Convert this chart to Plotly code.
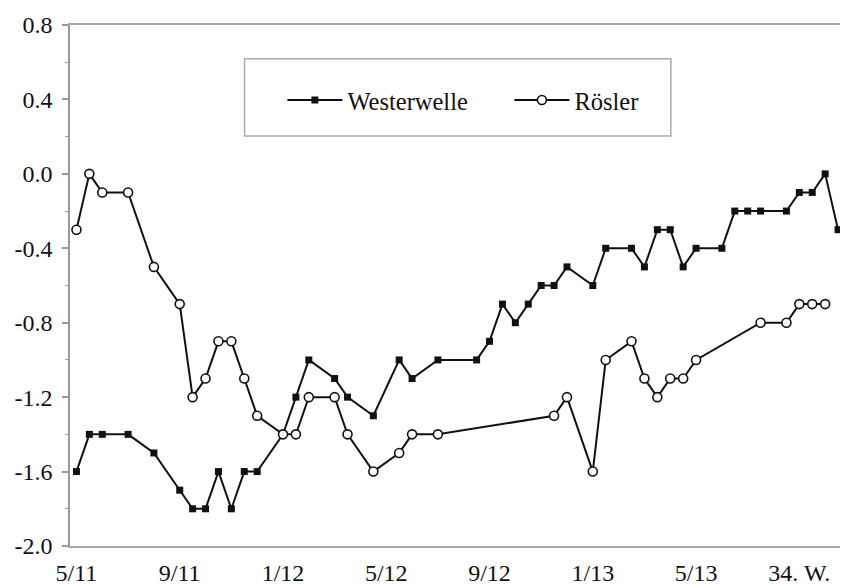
import plotly.graph_objects as go

# Time slots (roughly bi-weekly polls) along a category-like axis
ww_x = [0, 1, 2, 4, 6, 8, 9, 10, 11, 12, 13, 14, 16, 17, 18, 20, 21, 23, 25, 26, 28,
        31, 32, 33, 34, 35, 36, 37, 38, 40, 41, 43, 44, 45, 46, 47, 48, 50, 51, 52,
        53, 55, 56, 57, 58, 59]
ww_y = [-1.6, -1.4, -1.4, -1.4, -1.5, -1.7, -1.8, -1.8, -1.6, -1.8, -1.6, -1.6, -1.4,
        -1.2, -1.0, -1.1, -1.2, -1.3, -1.0, -1.1, -1.0, -1.0, -0.9, -0.7, -0.8, -0.7,
        -0.6, -0.6, -0.5, -0.6, -0.4, -0.4, -0.5, -0.3, -0.3, -0.5, -0.4, -0.4, -0.2,
        -0.2, -0.2, -0.2, -0.1, -0.1, 0.0, -0.3]

ro_x = [0, 1, 2, 4, 6, 8, 9, 10, 11, 12, 13, 14, 16, 17, 18, 20, 21, 23, 25, 26, 28,
        37, 38, 40, 41, 43, 44, 45, 46, 47, 48, 53, 55, 56, 57, 58]
ro_y = [-0.3, 0.0, -0.1, -0.1, -0.5, -0.7, -1.2, -1.1, -0.9, -0.9, -1.1, -1.3, -1.4,
        -1.4, -1.2, -1.2, -1.4, -1.6, -1.5, -1.4, -1.4, -1.3, -1.2, -1.6, -1.0, -0.9,
        -1.1, -1.2, -1.1, -1.1, -1.0, -0.8, -0.8, -0.7, -0.7, -0.7]

x_tickvals = [0, 8, 16, 24, 32, 40, 48, 56]
x_ticktext = ["5/11", "9/11", "1/12", "5/12", "9/12", "1/13", "5/13", "34. W."]

y_tickvals = [-2.0, -1.6, -1.2, -0.8, -0.4, 0.0, 0.4, 0.8]
y_ticktext = ["-2.0", "-1.6", "-1.2", "-0.8", "-0.4", "0.0", "0.4", "0.8"]

slot_bounds = [k + 0.5 for k in range(-1, 60)]

X_RANGE = [-0.5, 59.77]
Y_RANGE = [-2.0, 0.8]

FONT = dict(family="Liberation Serif", size=24, color="#111")

fig = go.Figure()
fig.add_trace(go.Scatter(
    x=ww_x, y=ww_y, name="Westerwelle", mode="lines+markers",
    line=dict(color="#111", width=2),
    marker=dict(symbol="square", size=7, color="#111"),
))
fig.add_trace(go.Scatter(
    x=ro_x, y=ro_y, name="Rösler", mode="lines+markers",
    line=dict(color="#111", width=2),
    marker=dict(symbol="circle", size=9, color="white",
                line=dict(color="#111", width=1.6)),
))

# page body has an 8px margin, so the figure is sized to fit the 848x585 window
fig.update_layout(
    width=840, height=577,
    margin=dict(l=62, r=0, t=17, b=39),
    paper_bgcolor="white", plot_bgcolor="white",
    font=FONT,
    showlegend=True,
    legend=dict(orientation="h", x=0.273, xanchor="left", y=0.856, yanchor="middle",
                bgcolor="rgba(0,0,0,0)", borderwidth=0,
                font=dict(family="Liberation Serif", size=24.5, color="#111"),
                entrywidth=157, entrywidthmode="pixels", itemwidth=55),
    xaxis=dict(range=X_RANGE, tickvals=x_tickvals, ticktext=x_ticktext,
               showgrid=False, zeroline=False, showline=True, linecolor="#aaa",
               linewidth=1.5, mirror=True, ticks="", ticklabelstandoff=4,
               tickfont=FONT, automargin=False),
    xaxis2=dict(range=X_RANGE, overlaying="x", anchor="free",
                position=(0 - Y_RANGE[0]) / (Y_RANGE[1] - Y_RANGE[0]),
                showline=True, linecolor="#888", linewidth=2,
                ticks="outside", ticklen=4, tickcolor="#aaa", tickwidth=1,
                tickvals=slot_bounds, showticklabels=False,
                showgrid=False, zeroline=False, automargin=False),
    yaxis=dict(range=Y_RANGE, tickvals=y_tickvals, ticktext=y_ticktext,
               showgrid=False, zeroline=False, showline=True, linecolor="#999",
               linewidth=1.5, ticks="outside", ticklen=6, tickcolor="#999",
               tickwidth=1.5, ticklabelstandoff=5, tickfont=FONT, automargin=False,
               minor=dict(dtick=0.2, ticks="outside", ticklen=3, tickcolor="#999",
                          tickwidth=1)),
    shapes=[dict(type="rect", xref="paper", yref="paper",
                 x0=0.2244, x1=0.7723, y0=0.787, y1=0.935,
                 line=dict(color="#aaa", width=1.5), fillcolor="rgba(0,0,0,0)")],
)

fig.write_html("out.html")
